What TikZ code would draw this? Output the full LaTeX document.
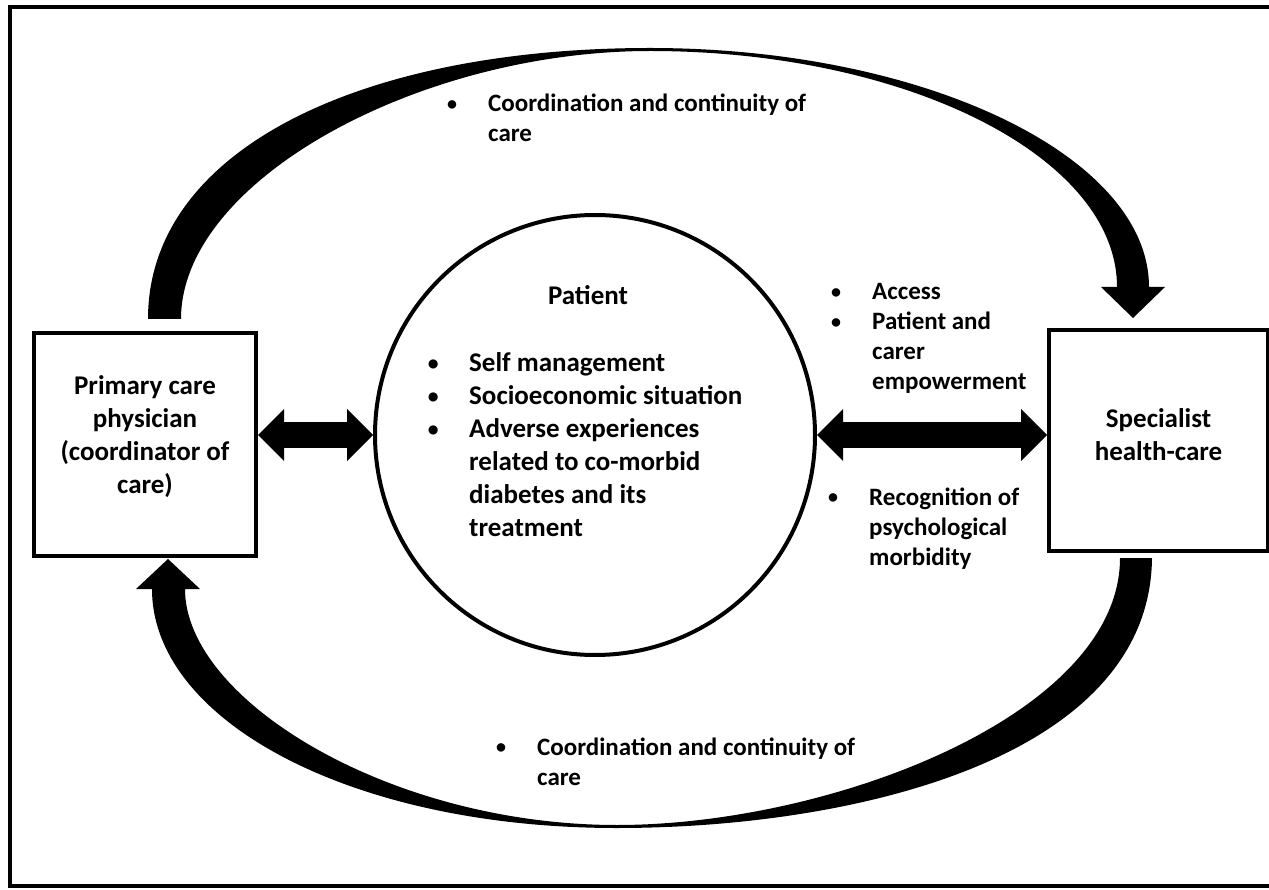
\documentclass[tikz,border=0pt]{standalone}
\usepackage{fontspec}
\setmainfont{Carlito}
\usetikzlibrary{arrows.meta}
\newcommand\bul{\llap{\makebox[72pt][c]{\raisebox{0.06em}{\scalebox{0.8}{\textbullet}}}}}
\tikzset{
  box/.style={draw, line width=4pt, rectangle, align=center, font=\fontsize{27}{33}\selectfont\bfseries},
  blockarrow/.style={line width=26pt, {Triangle[width=52pt,length=26pt,line width=0pt]}-{Triangle[width=52pt,length=26pt,line width=0pt]}},
  lst/.style={inner sep=0pt, anchor=base west, font=\fontsize{25}{30}\selectfont\bfseries},
  biglst/.style={lst, font=\fontsize{27}{33}\selectfont\bfseries}
}
\begin{document}
\begin{tikzpicture}[x=1pt,y=-1pt]
\useasboundingbox (0,0) rectangle (1269,890);
\draw[line width=4pt] (10,7) rectangle (1290,886);
% the three parties
\node[box, minimum width=222pt, minimum height=222pt, text depth=19pt] (primary) at (145,444.5) {Primary care\\physician\\(coordinator of\\care)};
\node[box, minimum width=219pt, minimum height=221pt, text depth=12pt] (special) at (1158.5,440.5) {Specialist\\health-care};
\node[draw, circle, line width=4pt, minimum size=440pt] (patient) at (595,435) {};
% texts
\node[biglst, anchor=base] (pathead) at (588,305) {Patient};
\node[biglst] (patlist) at (469,372) {\begin{tabular}[t]{@{}l@{}}\bul Self management\\\bul Socioeconomic situation\\\bul Adverse experiences\\related to co-morbid\\diabetes and its\\treatment\end{tabular}};
\node[lst] (topcare) at (488,112) {\begin{tabular}[t]{@{}l@{}}\bul Coordination and continuity of\\care\end{tabular}};
\node[lst] (botcare) at (537,755) {\begin{tabular}[t]{@{}l@{}}\bul Coordination and continuity of\\care\end{tabular}};
\node[lst] (access) at (872,300) {\begin{tabular}[t]{@{}l@{}}\bul Access\\\bul Patient and\\carer\\empowerment\end{tabular}};
\node[lst] (recog) at (869,505) {\begin{tabular}[t]{@{}l@{}}\bul Recognition of\\psychological\\morbidity\end{tabular}};
% block arrows
\draw[blockarrow] (primary.east |- patient.west) -- (patient.west);
\draw[blockarrow] (patient.east) -- (special.west |- patient.east);
% curved arrows
\fill (148,319) .. controls (148,150) and (360,48) .. (650,48)
  .. controls (924,48) and (1149,156) .. (1149,287)
  -- (1165,287) -- (1133,318) -- (1101,287) -- (1117,287)
  .. controls (1117,157) and (907,51) .. (650,51)
  .. controls (420,51) and (181,180) .. (181,319) -- cycle;
\fill (1152,558) .. controls (1150,760) and (850,828) .. (617,828)
  .. controls (350,828) and (152,720) .. (152,589)
  -- (136,589) -- (168,559) -- (200,589) -- (185,589)
  .. controls (185,700) and (390,825) .. (617,825)
  .. controls (830,825) and (1120,715) .. (1120,558) -- cycle;
\end{tikzpicture}
\end{document}
